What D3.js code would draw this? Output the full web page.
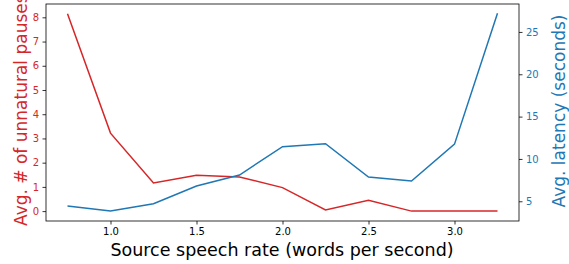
<!DOCTYPE html>
<html>
<head>
<meta charset="utf-8">
<script src="https://cdn.jsdelivr.net/npm/d3@7"></script>
<style>
  body { margin: 0; background: #fff; }
  svg { font-family: "DejaVu Sans", sans-serif; }
</style>
</head>
<body>
<div id="chart"></div>
<script>
const width = 569
const height = 264

// source speech rate (words per second)
const rates = [0.75, 1.0, 1.25, 1.5, 1.75, 2.0, 2.25, 2.5, 2.75, 3.0, 3.25]
// avg number of unnatural pauses
const pauses = [8.15, 3.22, 1.16, 1.48, 1.41, 0.97, 0.05, 0.45, 0.0, 0.0, 0.0]
// avg latency in seconds
const latency = [4.45, 3.85, 4.7, 6.8, 8.1, 11.45, 11.8, 7.87, 7.4, 11.75, 27.2]

const xTicks = [1.0, 1.5, 2.0, 2.5, 3.0]
const leftTicks = [0, 1, 2, 3, 4, 5, 6, 7, 8]
const rightTicks = [5, 10, 15, 20, 25]

const red = "#d62728"
const blue = "#1f77b4"

const plot = {left: 46, right: 519, top: 4, bottom: 221}

const svg = d3.select("#chart")
    .append("svg")
    .attr("width", width)
    .attr("height", height)

const x = d3.scaleLinear()
    .domain([0.625, 3.375])
    .range([plot.left, plot.right])

const yLeft = d3.scaleLinear()
    .domain([-0.408, 8.55])
    .range([plot.bottom, plot.top])

const yRight = d3.scaleLinear()
    .domain([2.67, 28.3])
    .range([plot.bottom, plot.top])

// axes
const styleAxis = (g, color) => {
    g.select(".domain").remove()
    g.selectAll(".tick line").attr("stroke", "#000").attr("stroke-width", 0.8)
    g.selectAll(".tick text")
        .attr("fill", color)
        .style("font-size", "10px")
        .style("font-family", "DejaVu Sans")
}

svg.append("g")
    .attr("transform", `translate(0,${plot.bottom})`)
    .call(d3.axisBottom(x).tickValues(xTicks).tickFormat(d3.format(".1f")).tickSizeOuter(0).tickSize(3.5).tickPadding(3.5))
    .call(g => styleAxis(g, "#000"))

svg.append("g")
    .attr("transform", `translate(${plot.left},0)`)
    .call(d3.axisLeft(yLeft).tickValues(leftTicks).tickFormat(d3.format("d")).tickSizeOuter(0).tickSize(3.5).tickPadding(3.5))
    .call(g => styleAxis(g, red))

svg.append("g")
    .attr("transform", `translate(${plot.right},0)`)
    .call(d3.axisRight(yRight).tickValues(rightTicks).tickFormat(d3.format("d")).tickSizeOuter(0).tickSize(3.5).tickPadding(3.5))
    .call(g => styleAxis(g, blue))

// lines
const pauseLine = d3.line()
    .x((d, i) => x(rates[i]))
    .y(d => yLeft(d))

const latencyLine = d3.line()
    .x((d, i) => x(rates[i]))
    .y(d => yRight(d))

svg.append("path")
    .datum(pauses)
    .attr("d", pauseLine)
    .attr("fill", "none")
    .attr("stroke", red)
    .attr("stroke-width", 1.5)

svg.append("path")
    .datum(latency)
    .attr("d", latencyLine)
    .attr("fill", "none")
    .attr("stroke", blue)
    .attr("stroke-width", 1.5)

// frame
svg.append("rect")
    .attr("x", plot.left)
    .attr("y", plot.top)
    .attr("width", plot.right - plot.left)
    .attr("height", plot.bottom - plot.top)
    .attr("fill", "none")
    .attr("stroke", "#000")
    .attr("stroke-width", 0.8)

// axis labels
svg.append("text")
    .attr("x", 282)
    .attr("y", 256)
    .attr("text-anchor", "middle")
    .style("font-size", "17.5px")
    .text("Source speech rate (words per second)")

svg.append("text")
    .attr("transform", "translate(27,226) rotate(-90)")
    .attr("text-anchor", "start")
    .attr("fill", red)
    .style("font-size", "17px")
    .text("Avg. # of unnatural pauses")

svg.append("text")
    .attr("transform", "translate(565,111) rotate(-90)")
    .attr("text-anchor", "middle")
    .attr("fill", blue)
    .style("font-size", "17px")
    .text("Avg. latency (seconds)")
</script>
</body>
</html>
